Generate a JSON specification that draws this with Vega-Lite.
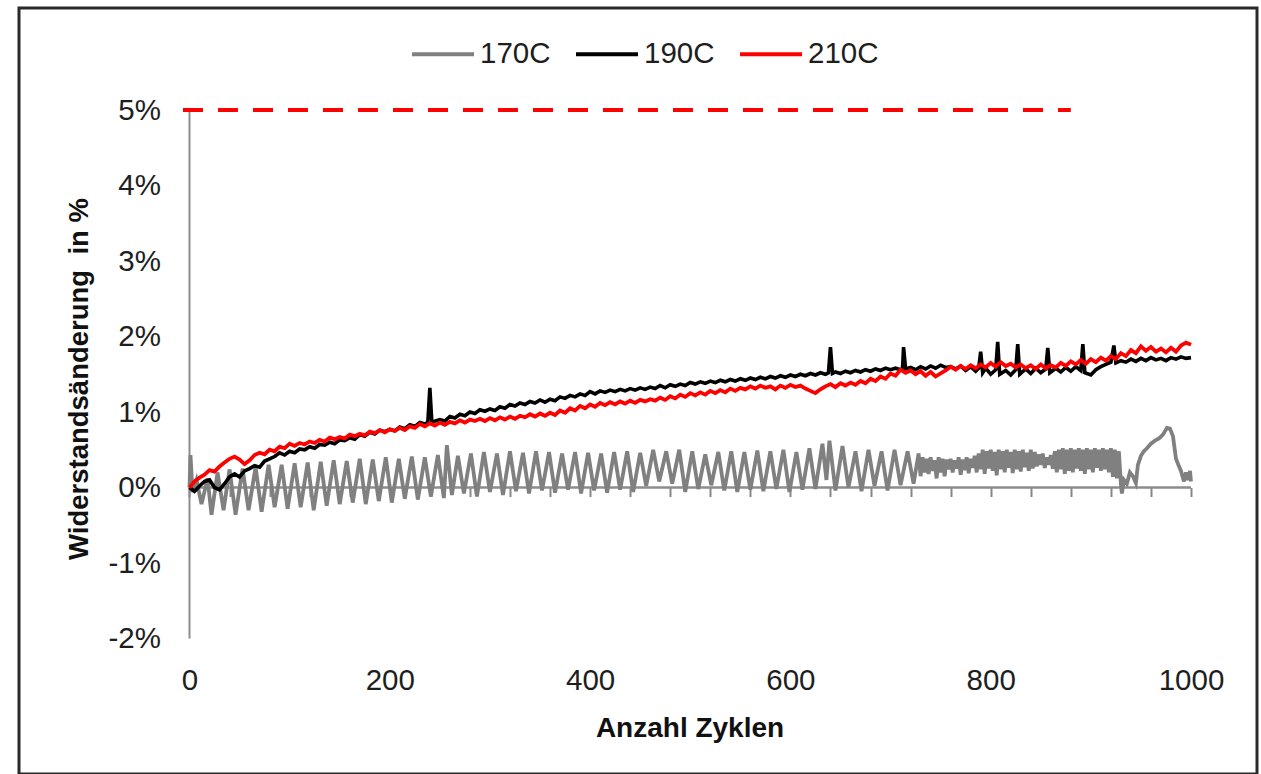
{
  "$schema": "https://vega.github.io/schema/vega-lite/v6.json",
  "width": 1238,
  "height": 766,
  "autosize": {"type": "none"},
  "padding": {"left": 19, "top": 8, "right": 4, "bottom": 0},
  "background": "white",
  "config": {
    "view": {"stroke": "#2a2a2a", "strokeWidth": 3},
    "font": "Liberation Sans",
    "axis": {"labelFont": "Liberation Sans", "titleFont": "Liberation Sans", "grid": false}
  },
  "datasets": {
    "yline": [{"c": 0, "v": -2, "v2": 5}],
    "xline": [{"c": 0, "c2": 1000, "v": 0}],
    "limit": [{"c": -6.5, "c2": 880, "v": 5}],
    "g170": [
      {"c":0,"v":0.00},{"c":1,"v":0.43},{"c":3,"v":-0.06},{"c":7,"v":0.10},{"c":12,"v":-0.22},{"c":18,"v":0.12},{"c":22,"v":-0.36},{"c":28,"v":0.20},{"c":34,"v":-0.30},{"c":40,"v":0.24},{"c":46,"v":-0.36},{"c":53,"v":0.25},{"c":59,"v":-0.30},{"c":66,"v":0.27},{"c":72,"v":-0.32},{"c":79,"v":0.30},{"c":85,"v":-0.26},{"c":92,"v":0.30},{"c":98,"v":-0.28},{"c":105,"v":0.32},{"c":111,"v":-0.26},{"c":118,"v":0.33},{"c":124,"v":-0.30},{"c":131,"v":0.34},{"c":137,"v":-0.24},{"c":144,"v":0.36},{"c":150,"v":-0.22},{"c":157,"v":0.35},{"c":163,"v":-0.20},{"c":170,"v":0.38},{"c":176,"v":-0.22},{"c":183,"v":0.37},{"c":189,"v":-0.18},{"c":196,"v":0.40},{"c":202,"v":-0.20},{"c":209,"v":0.38},{"c":215,"v":-0.15},{"c":222,"v":0.41},{"c":228,"v":-0.16},{"c":235,"v":0.40},{"c":241,"v":-0.12},{"c":248,"v":0.43},{"c":254,"v":-0.14},{"c":257,"v":0.56},{"c":262,"v":-0.10},{"c":268,"v":0.42},{"c":274,"v":-0.08},{"c":281,"v":0.45},{"c":287,"v":-0.12},{"c":294,"v":0.47},{"c":300,"v":-0.06},{"c":307,"v":0.45},{"c":313,"v":-0.10},{"c":320,"v":0.48},{"c":326,"v":-0.05},{"c":333,"v":0.46},{"c":339,"v":-0.08},{"c":346,"v":0.48},{"c":352,"v":-0.04},{"c":359,"v":0.47},{"c":365,"v":-0.07},{"c":372,"v":0.45},{"c":378,"v":-0.03},{"c":385,"v":0.47},{"c":391,"v":-0.08},{"c":398,"v":0.46},{"c":404,"v":-0.04},{"c":411,"v":0.45},{"c":417,"v":-0.07},{"c":424,"v":0.47},{"c":430,"v":-0.03},{"c":437,"v":0.48},{"c":443,"v":-0.06},{"c":450,"v":0.46},{"c":456,"v":0.02},{"c":463,"v":0.50},{"c":469,"v":0.08},{"c":476,"v":0.48},{"c":482,"v":0.05},{"c":489,"v":0.50},{"c":495,"v":-0.06},{"c":502,"v":0.48},{"c":508,"v":-0.02},{"c":515,"v":0.44},{"c":521,"v":0.03},{"c":528,"v":0.47},{"c":534,"v":-0.04},{"c":541,"v":0.48},{"c":547,"v":-0.06},{"c":554,"v":0.47},{"c":560,"v":-0.03},{"c":567,"v":0.49},{"c":573,"v":-0.05},{"c":580,"v":0.48},{"c":586,"v":-0.02},{"c":593,"v":0.50},{"c":599,"v":-0.06},{"c":606,"v":0.47},{"c":612,"v":-0.03},{"c":619,"v":0.52},{"c":625,"v":-0.02},{"c":632,"v":0.58},{"c":636,"v":0.10},{"c":639,"v":0.62},{"c":645,"v":-0.04},{"c":652,"v":0.55},{"c":658,"v":0.00},{"c":665,"v":0.48},{"c":671,"v":-0.05},{"c":678,"v":0.50},{"c":684,"v":0.02},{"c":691,"v":0.48},{"c":697,"v":-0.04},{"c":704,"v":0.50},{"c":710,"v":0.03},{"c":717,"v":0.48},{"c":723,"v":0.05},{"c":728,"v":0.45},
      {"c":730,"v":0.15},{"c":732,"v":0.40},{"c":734,"v":0.20},{"c":736,"v":0.38},{"c":738,"v":0.18},{"c":740,"v":0.40},{"c":742,"v":0.22},{"c":744,"v":0.36},{"c":746,"v":0.12},{"c":748,"v":0.40},{"c":750,"v":0.20},{"c":752,"v":0.38},{"c":754,"v":0.15},{"c":756,"v":0.37},{"c":758,"v":0.24},{"c":760,"v":0.38},{"c":762,"v":0.20},{"c":764,"v":0.36},{"c":766,"v":0.25},{"c":768,"v":0.40},{"c":770,"v":0.17},{"c":772,"v":0.37},{"c":774,"v":0.23},{"c":776,"v":0.40},{"c":778,"v":0.19},{"c":780,"v":0.38},{"c":782,"v":0.26},{"c":784,"v":0.42},{"c":786,"v":0.20},{"c":788,"v":0.45},{"c":790,"v":0.24},{"c":792,"v":0.50},{"c":794,"v":0.18},{"c":796,"v":0.48},{"c":798,"v":0.25},{"c":800,"v":0.50},{"c":802,"v":0.22},{"c":804,"v":0.47},{"c":806,"v":0.16},{"c":808,"v":0.50},{"c":810,"v":0.24},{"c":812,"v":0.48},{"c":814,"v":0.20},{"c":816,"v":0.50},{"c":818,"v":0.26},{"c":820,"v":0.47},{"c":822,"v":0.19},{"c":824,"v":0.50},{"c":826,"v":0.24},{"c":828,"v":0.48},{"c":830,"v":0.21},{"c":832,"v":0.50},{"c":834,"v":0.27},{"c":836,"v":0.46},{"c":838,"v":0.22},{"c":840,"v":0.50},{"c":842,"v":0.25},{"c":844,"v":0.47},{"c":846,"v":0.28},{"c":848,"v":0.44},{"c":850,"v":0.30},{"c":852,"v":0.45},{"c":854,"v":0.26},{"c":856,"v":0.40},{"c":858,"v":0.30},{"c":860,"v":0.43},{"c":862,"v":0.25},{"c":864,"v":0.48},{"c":866,"v":0.20},{"c":868,"v":0.50},{"c":870,"v":0.24},{"c":872,"v":0.52},{"c":874,"v":0.18},{"c":876,"v":0.50},{"c":878,"v":0.22},{"c":880,"v":0.52},{"c":882,"v":0.20},{"c":884,"v":0.50},{"c":886,"v":0.25},{"c":888,"v":0.52},{"c":890,"v":0.22},{"c":892,"v":0.50},{"c":894,"v":0.18},{"c":896,"v":0.52},{"c":898,"v":0.24},{"c":900,"v":0.50},{"c":902,"v":0.20},{"c":904,"v":0.52},{"c":906,"v":0.26},{"c":908,"v":0.50},{"c":910,"v":0.22},{"c":912,"v":0.52},{"c":914,"v":0.24},{"c":916,"v":0.50},{"c":918,"v":0.20},{"c":920,"v":0.52},{"c":922,"v":0.14},{"c":924,"v":0.50},{"c":926,"v":0.12},{"c":928,"v":0.48},{"c":930,"v":0.05},{"c":931,"v":-0.08},{"c":933,"v":0.10},{"c":936,"v":0.05},{"c":939,"v":0.20},{"c":942,"v":0.15},{"c":945,"v":0.06},{"c":947,"v":0.30},{"c":950,"v":0.42},{"c":953,"v":0.48},{"c":956,"v":0.52},{"c":960,"v":0.58},{"c":964,"v":0.62},{"c":968,"v":0.65},{"c":972,"v":0.70},{"c":976,"v":0.79},{"c":979,"v":0.78},{"c":982,"v":0.68},{"c":985,"v":0.38},{"c":988,"v":0.28},{"c":990,"v":0.22},{"c":993,"v":0.08},{"c":995,"v":0.20},{"c":997,"v":0.10},{"c":999,"v":0.22},{"c":1000,"v":0.08}
    ],
    "g190": [
      {"c":0,"v":0.00},{"c":5,"v":-0.05},{"c":10,"v":0.02},{"c":15,"v":0.08},{"c":20,"v":0.10},{"c":25,"v":0.00},{"c":30,"v":-0.03},{"c":35,"v":0.05},{"c":40,"v":0.14},{"c":45,"v":0.18},{"c":50,"v":0.14},{"c":55,"v":0.22},{"c":60,"v":0.25},{"c":65,"v":0.29},{"c":70,"v":0.27},{"c":75,"v":0.35},{"c":80,"v":0.38},{"c":85,"v":0.41},{"c":90,"v":0.46},{"c":95,"v":0.43},{"c":100,"v":0.48},{"c":105,"v":0.46},{"c":110,"v":0.51},{"c":115,"v":0.50},{"c":120,"v":0.54},{"c":125,"v":0.52},{"c":130,"v":0.57},{"c":135,"v":0.56},{"c":140,"v":0.60},{"c":145,"v":0.58},{"c":150,"v":0.63},{"c":155,"v":0.62},{"c":160,"v":0.66},{"c":165,"v":0.64},{"c":170,"v":0.70},{"c":175,"v":0.68},{"c":180,"v":0.73},{"c":185,"v":0.71},{"c":190,"v":0.76},{"c":195,"v":0.74},{"c":200,"v":0.77},{"c":205,"v":0.75},{"c":210,"v":0.80},{"c":215,"v":0.78},{"c":220,"v":0.83},{"c":225,"v":0.81},{"c":230,"v":0.86},{"c":235,"v":0.84},{"c":238,"v":0.87},{"c":240,"v":1.32},{"c":242,"v":0.86},{"c":245,"v":0.88},{"c":250,"v":0.90},{"c":255,"v":0.88},{"c":260,"v":0.94},{"c":265,"v":0.92},{"c":270,"v":0.97},{"c":275,"v":0.95},{"c":280,"v":1.00},{"c":285,"v":0.98},{"c":290,"v":1.03},{"c":295,"v":1.01},{"c":300,"v":1.04},{"c":305,"v":1.02},{"c":310,"v":1.07},{"c":315,"v":1.05},{"c":320,"v":1.10},{"c":325,"v":1.08},{"c":330,"v":1.12},{"c":335,"v":1.10},{"c":340,"v":1.14},{"c":345,"v":1.12},{"c":350,"v":1.16},{"c":355,"v":1.13},{"c":360,"v":1.17},{"c":365,"v":1.15},{"c":370,"v":1.20},{"c":375,"v":1.18},{"c":380,"v":1.22},{"c":385,"v":1.20},{"c":390,"v":1.24},{"c":395,"v":1.22},{"c":400,"v":1.27},{"c":405,"v":1.24},{"c":410,"v":1.28},{"c":415,"v":1.26},{"c":420,"v":1.29},{"c":425,"v":1.27},{"c":430,"v":1.30},{"c":435,"v":1.28},{"c":440,"v":1.31},{"c":445,"v":1.29},{"c":450,"v":1.32},{"c":455,"v":1.30},{"c":460,"v":1.33},{"c":465,"v":1.31},{"c":470,"v":1.35},{"c":475,"v":1.32},{"c":480,"v":1.36},{"c":485,"v":1.34},{"c":490,"v":1.37},{"c":495,"v":1.35},{"c":500,"v":1.39},{"c":505,"v":1.37},{"c":510,"v":1.40},{"c":515,"v":1.38},{"c":520,"v":1.41},{"c":525,"v":1.39},{"c":530,"v":1.42},{"c":535,"v":1.40},{"c":540,"v":1.43},{"c":545,"v":1.41},{"c":550,"v":1.44},{"c":555,"v":1.42},{"c":560,"v":1.45},{"c":565,"v":1.43},{"c":570,"v":1.46},{"c":575,"v":1.44},{"c":580,"v":1.47},{"c":585,"v":1.45},{"c":590,"v":1.48},{"c":595,"v":1.46},{"c":600,"v":1.49},{"c":605,"v":1.47},{"c":610,"v":1.50},{"c":615,"v":1.48},{"c":620,"v":1.51},{"c":625,"v":1.49},{"c":630,"v":1.52},{"c":635,"v":1.50},{"c":638,"v":1.52},{"c":640,"v":1.86},{"c":642,"v":1.51},{"c":645,"v":1.53},{"c":650,"v":1.51},{"c":655,"v":1.54},{"c":660,"v":1.52},{"c":665,"v":1.55},{"c":670,"v":1.53},{"c":675,"v":1.56},{"c":680,"v":1.54},{"c":685,"v":1.57},{"c":690,"v":1.55},{"c":695,"v":1.58},{"c":700,"v":1.56},{"c":705,"v":1.58},{"c":710,"v":1.56},{"c":712,"v":1.58},{"c":713,"v":1.86},{"c":715,"v":1.57},{"c":720,"v":1.59},{"c":725,"v":1.56},{"c":730,"v":1.60},{"c":735,"v":1.57},{"c":740,"v":1.61},{"c":745,"v":1.58},{"c":750,"v":1.62},{"c":755,"v":1.59},{"c":760,"v":1.60},{"c":765,"v":1.57},{"c":770,"v":1.61},{"c":775,"v":1.55},{"c":780,"v":1.60},{"c":785,"v":1.54},{"c":788,"v":1.58},{"c":790,"v":1.80},{"c":792,"v":1.52},{"c":795,"v":1.58},{"c":800,"v":1.50},{"c":805,"v":1.56},{"c":807,"v":1.93},{"c":809,"v":1.50},{"c":815,"v":1.55},{"c":820,"v":1.49},{"c":825,"v":1.56},{"c":827,"v":1.90},{"c":829,"v":1.50},{"c":835,"v":1.57},{"c":840,"v":1.51},{"c":845,"v":1.58},{"c":850,"v":1.52},{"c":855,"v":1.57},{"c":857,"v":1.85},{"c":859,"v":1.52},{"c":865,"v":1.58},{"c":870,"v":1.53},{"c":875,"v":1.59},{"c":880,"v":1.54},{"c":885,"v":1.60},{"c":890,"v":1.55},{"c":892,"v":1.90},{"c":894,"v":1.52},{"c":900,"v":1.49},{"c":905,"v":1.56},{"c":910,"v":1.60},{"c":915,"v":1.63},{"c":920,"v":1.66},{"c":923,"v":1.88},{"c":925,"v":1.65},{"c":930,"v":1.68},{"c":935,"v":1.66},{"c":940,"v":1.70},{"c":945,"v":1.67},{"c":950,"v":1.71},{"c":955,"v":1.68},{"c":960,"v":1.72},{"c":965,"v":1.69},{"c":970,"v":1.71},{"c":975,"v":1.68},{"c":980,"v":1.72},{"c":985,"v":1.70},{"c":990,"v":1.73},{"c":995,"v":1.71},{"c":1000,"v":1.72}
    ],
    "g210": [
      {"c":0,"v":0.00},{"c":5,"v":0.08},{"c":10,"v":0.13},{"c":15,"v":0.17},{"c":20,"v":0.23},{"c":25,"v":0.21},{"c":30,"v":0.28},{"c":35,"v":0.33},{"c":40,"v":0.38},{"c":45,"v":0.41},{"c":50,"v":0.37},{"c":55,"v":0.31},{"c":60,"v":0.36},{"c":65,"v":0.43},{"c":70,"v":0.46},{"c":75,"v":0.44},{"c":80,"v":0.50},{"c":85,"v":0.48},{"c":90,"v":0.54},{"c":95,"v":0.52},{"c":100,"v":0.58},{"c":105,"v":0.55},{"c":110,"v":0.59},{"c":115,"v":0.57},{"c":120,"v":0.61},{"c":125,"v":0.59},{"c":130,"v":0.63},{"c":135,"v":0.61},{"c":140,"v":0.66},{"c":145,"v":0.64},{"c":150,"v":0.67},{"c":155,"v":0.65},{"c":160,"v":0.70},{"c":165,"v":0.68},{"c":170,"v":0.71},{"c":175,"v":0.69},{"c":180,"v":0.74},{"c":185,"v":0.72},{"c":190,"v":0.76},{"c":195,"v":0.73},{"c":200,"v":0.77},{"c":205,"v":0.75},{"c":210,"v":0.79},{"c":215,"v":0.76},{"c":220,"v":0.81},{"c":225,"v":0.79},{"c":230,"v":0.84},{"c":235,"v":0.81},{"c":240,"v":0.85},{"c":245,"v":0.82},{"c":250,"v":0.86},{"c":255,"v":0.83},{"c":260,"v":0.87},{"c":265,"v":0.85},{"c":270,"v":0.89},{"c":275,"v":0.86},{"c":280,"v":0.90},{"c":285,"v":0.88},{"c":290,"v":0.91},{"c":295,"v":0.88},{"c":300,"v":0.92},{"c":305,"v":0.89},{"c":310,"v":0.93},{"c":315,"v":0.90},{"c":320,"v":0.94},{"c":325,"v":0.91},{"c":330,"v":0.95},{"c":335,"v":0.93},{"c":340,"v":0.97},{"c":345,"v":0.94},{"c":350,"v":0.98},{"c":355,"v":0.95},{"c":360,"v":0.99},{"c":365,"v":0.96},{"c":370,"v":1.02},{"c":375,"v":0.99},{"c":380,"v":1.05},{"c":385,"v":1.02},{"c":390,"v":1.08},{"c":395,"v":1.05},{"c":400,"v":1.10},{"c":405,"v":1.07},{"c":410,"v":1.12},{"c":415,"v":1.09},{"c":420,"v":1.13},{"c":425,"v":1.10},{"c":430,"v":1.14},{"c":435,"v":1.11},{"c":440,"v":1.15},{"c":445,"v":1.12},{"c":450,"v":1.16},{"c":455,"v":1.14},{"c":460,"v":1.17},{"c":465,"v":1.15},{"c":470,"v":1.19},{"c":475,"v":1.16},{"c":480,"v":1.21},{"c":485,"v":1.18},{"c":490,"v":1.23},{"c":495,"v":1.20},{"c":500,"v":1.25},{"c":505,"v":1.22},{"c":510,"v":1.26},{"c":515,"v":1.23},{"c":520,"v":1.28},{"c":525,"v":1.25},{"c":530,"v":1.29},{"c":535,"v":1.26},{"c":540,"v":1.31},{"c":545,"v":1.28},{"c":550,"v":1.32},{"c":555,"v":1.30},{"c":560,"v":1.34},{"c":565,"v":1.31},{"c":570,"v":1.35},{"c":575,"v":1.32},{"c":580,"v":1.34},{"c":585,"v":1.30},{"c":590,"v":1.35},{"c":595,"v":1.32},{"c":600,"v":1.36},{"c":605,"v":1.33},{"c":610,"v":1.35},{"c":615,"v":1.31},{"c":620,"v":1.28},{"c":625,"v":1.25},{"c":630,"v":1.30},{"c":635,"v":1.34},{"c":640,"v":1.37},{"c":645,"v":1.33},{"c":650,"v":1.38},{"c":655,"v":1.35},{"c":660,"v":1.39},{"c":665,"v":1.36},{"c":670,"v":1.41},{"c":675,"v":1.38},{"c":680,"v":1.44},{"c":685,"v":1.41},{"c":690,"v":1.47},{"c":695,"v":1.44},{"c":700,"v":1.51},{"c":705,"v":1.48},{"c":710,"v":1.56},{"c":715,"v":1.52},{"c":720,"v":1.55},{"c":725,"v":1.50},{"c":730,"v":1.54},{"c":735,"v":1.48},{"c":740,"v":1.53},{"c":745,"v":1.47},{"c":750,"v":1.51},{"c":755,"v":1.55},{"c":760,"v":1.60},{"c":765,"v":1.56},{"c":770,"v":1.61},{"c":775,"v":1.57},{"c":780,"v":1.62},{"c":785,"v":1.58},{"c":790,"v":1.63},{"c":795,"v":1.59},{"c":800,"v":1.65},{"c":805,"v":1.60},{"c":810,"v":1.66},{"c":815,"v":1.61},{"c":820,"v":1.64},{"c":825,"v":1.59},{"c":830,"v":1.63},{"c":835,"v":1.58},{"c":840,"v":1.62},{"c":845,"v":1.57},{"c":850,"v":1.63},{"c":855,"v":1.58},{"c":860,"v":1.62},{"c":865,"v":1.59},{"c":870,"v":1.65},{"c":875,"v":1.61},{"c":880,"v":1.67},{"c":885,"v":1.63},{"c":890,"v":1.69},{"c":895,"v":1.64},{"c":900,"v":1.70},{"c":905,"v":1.66},{"c":910,"v":1.72},{"c":915,"v":1.68},{"c":920,"v":1.74},{"c":925,"v":1.70},{"c":930,"v":1.78},{"c":935,"v":1.74},{"c":940,"v":1.82},{"c":945,"v":1.78},{"c":950,"v":1.87},{"c":955,"v":1.81},{"c":960,"v":1.86},{"c":965,"v":1.80},{"c":970,"v":1.84},{"c":975,"v":1.79},{"c":980,"v":1.85},{"c":985,"v":1.80},{"c":990,"v":1.88},{"c":995,"v":1.92},{"c":1000,"v":1.89}
    ]
  },
  "encoding": {
    "x": {
      "field": "c", "type": "quantitative",
      "scale": {"domain": [-170.24, 1065.91], "nice": false, "zero": false},
      "axis": {
        "orient": "bottom", "offset": -286.5, "domain": false,
        "ticks": true, "tickSize": 9, "tickWidth": 2, "tickColor": "#888888",
        "values": [0,40,80,120,160,200,240,280,320,360,400,440,480,520,560,600,640,680,720,760,800,840,880,920,960,1000],
        "format": "d",
        "labelExpr": "datum.value % 200 === 0 ? datum.label : ''",
        "labelOverlap": false, "labelFlush": false, "labelBound": false,
        "labelFontSize": 29.5, "labelColor": "#1e1e1e", "labelPadding": 192.5, "labelBaseline": "alphabetic",
        "title": "Anzahl Zyklen", "titleFontSize": 28, "titleFontWeight": "bold", "titleColor": "#111111",
        "titleX": 670.5, "titleY": 248.5, "titleBaseline": "alphabetic", "titleAlign": "center", "titleAnchor": null
      }
    },
    "y": {
      "field": "v", "type": "quantitative",
      "scale": {"domain": [-3.7947, 6.351], "nice": false, "zero": false},
      "axis": {
        "orient": "left", "offset": -170.5, "domain": false, "ticks": false,
        "values": [-2,-1,0,1,2,3,4,5],
        "labelExpr": "datum.value + '%'",
        "labelFontSize": 29.5, "labelColor": "#1e1e1e", "labelPadding": 29,
        "title": "Widerstandsänderung\u00a0 in %", "titleFontSize": 27.5, "titleFontWeight": "bold", "titleColor": "#111111",
        "titleX": -110.5, "titleY": 370.5, "titleBaseline": "middle", "titleAlign": "center", "titleAngle": 270
      }
    }
  },
  "layer": [
    {
      "data": {"name": "yline"},
      "mark": {"type": "rule", "color": "#8c8c8c", "strokeWidth": 2},
      "encoding": {"y2": {"field": "v2"}}
    },
    {
      "data": {"name": "xline"},
      "mark": {"type": "rule", "color": "#8c8c8c", "strokeWidth": 2.5},
      "encoding": {"x2": {"field": "c2"}}
    },
    {
      "data": {"name": "limit"},
      "mark": {"type": "rule", "color": "#ff0000", "strokeWidth": 4, "strokeDash": [20, 15]},
      "encoding": {"x2": {"field": "c2"}}
    },
    {
      "data": {"name": "g170"},
      "mark": {"type": "line", "strokeWidth": 3.8},
      "encoding": {
        "color": {
          "datum": "170C", "type": "nominal",
          "scale": {"domain": ["170C", "190C", "210C"], "range": ["#808080", "#000000", "#ff0000"]},
          "legend": {
            "title": null, "orient": "none", "direction": "horizontal",
            "legendX": 391, "legendY": 13, "padding": 0,
            "symbolType": "stroke", "symbolSize": 3844, "symbolStrokeWidth": 4,
            "labelFontSize": 29.5, "labelColor": "#1e1e1e", "labelOffset": 4, "columnPadding": 17,
            "labelFont": "Liberation Sans"
          }
        }
      }
    },
    {
      "data": {"name": "g190"},
      "mark": {"type": "line", "strokeWidth": 3.6},
      "encoding": {"color": {"datum": "190C", "type": "nominal"}}
    },
    {
      "data": {"name": "g210"},
      "mark": {"type": "line", "strokeWidth": 3.8},
      "encoding": {"color": {"datum": "210C", "type": "nominal"}}
    }
  ]
}
